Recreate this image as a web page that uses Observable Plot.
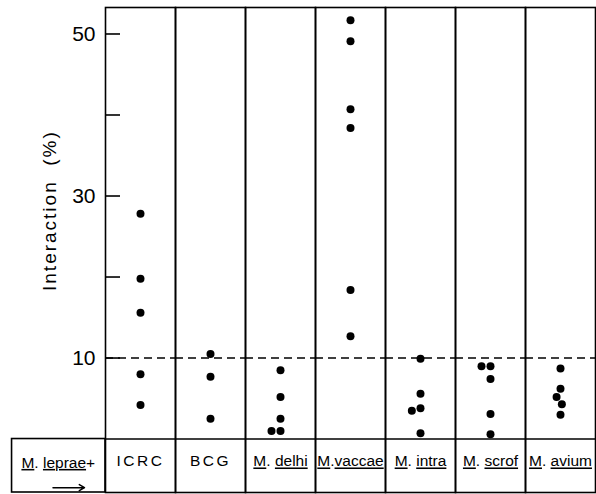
<!DOCTYPE html>
<html><head><meta charset="utf-8">
<script src="https://cdn.jsdelivr.net/npm/d3@7"></script>
<script src="https://cdn.jsdelivr.net/npm/@observablehq/plot@0.6"></script>
<style>
body{margin:0;background:#fff;}
svg text{font-family:"Liberation Sans",sans-serif;}
</style></head><body><div id="chart"></div>
<script>
const categories = ["ICRC", "BCG", "M. delhi", "M.vaccae", "M. intra", "M. scrof", "M. avium"];
const icrc   = [27.8, 19.8, 15.6, 8.0, 4.2];
const bcg    = [10.5, 7.7, 2.5];
const delhi  = [8.5, 5.2, 2.5, 1.0, 1.0];
const vaccae = [51.7, 49.1, 40.7, 38.4, 18.4, 12.7];
const intra  = [9.9, 5.6, 3.8, 3.5, 0.7];
const scrof  = [9.0, 9.0, 7.4, 3.1, 0.6];
const avium  = [8.7, 6.2, 5.2, 4.3, 3.0];
const seriesValues = [icrc, bcg, delhi, vaccae, intra, scrof, avium];
const yTicks = [10, 20, 30, 40, 50];
const yTickLabels = [10, 30, 50];
const threshold = 10;
const yLabel = "Interaction  (%)";
const rowLabel = "M. leprae+";

const rows = categories.flatMap((c, i) => seriesValues[i].map(v => ({cat: c, value: v})));
const first = () => categories[0];

const plot = Plot.plot({
  width: 596, height: 494,
  marginLeft: 103, marginRight: 0, marginTop: 7, marginBottom: 2,
  style: {fontFamily: "Liberation Sans, sans-serif", background: "white", color: "black"},
  fx: {domain: categories, padding: 0, label: null},
  x: {domain: [0, 1], axis: null},
  y: {domain: [-6.6, 53.27], label: null},
  marks: [
    Plot.frame({strokeWidth: 1.6}),
    Plot.ruleY([0], {strokeWidth: 1.6}),
    Plot.ruleY([threshold], {strokeDasharray: "8,5", strokeWidth: 1.4}),
    Plot.axisY(yTicks, {anchor: "left", tickSize: -15, tickPadding: 25, strokeWidth: 1.6,
      tickFormat: d => yTickLabels.includes(d) ? String(d) : "", fontSize: 21, label: null}),
    Plot.axisFx({anchor: "bottom", tickSize: 0, tickPadding: 0, dy: -31, lineAnchor: "middle", fontSize: 15.5, label: null}),
    Plot.dot(rows, Plot.dodgeX("middle", {fx: "cat", y: "value", r: 4, fill: "black", padding: 0.6})),
    Plot.rect([rowLabel], {fx: first, x1: -1.335, x2: 0, y1: -6.6, y2: 0, stroke: "black", fill: "none", strokeWidth: 1.6}),
    Plot.text([rowLabel], {fx: first, x: -0.675, y: -2.95, text: d => d, fontSize: 15.5}),
    Plot.arrow([rowLabel], {fx: first, x1: -0.75, x2: -0.30, y1: -6.0, y2: -6.0, headLength: 6, strokeWidth: 1.5, bend: 0}),
    Plot.text([yLabel], {fx: first, frameAnchor: "left", y: 28.2, dx: -56, rotate: -90, textAnchor: "middle", text: d => d, fontSize: 19})
  ]
});

d3.select(plot).selectAll("text").each(function() {
  const s = this.textContent;
  const m = s.match(/^M\.(\s*)([A-Za-z]+)(\+?)$/);
  if (!m) {
    if (s === "ICRC" || s === "BCG") this.setAttribute("letter-spacing", "2.5");
    return;
  }
  const el = d3.select(this);
  el.text(null);
  el.append("tspan").attr("text-decoration", "underline").style("text-decoration", "underline").text("M");
  el.append("tspan").text("." + m[1]);
  el.append("tspan").attr("text-decoration", "underline").style("text-decoration", "underline").text(m[2]);
  if (m[3]) el.append("tspan").text(m[3]);
});
d3.select(plot).selectAll("text").filter(function(){ return this.textContent === yLabel; }).attr("letter-spacing", "2");

document.getElementById("chart").appendChild(plot);
</script></body></html>
